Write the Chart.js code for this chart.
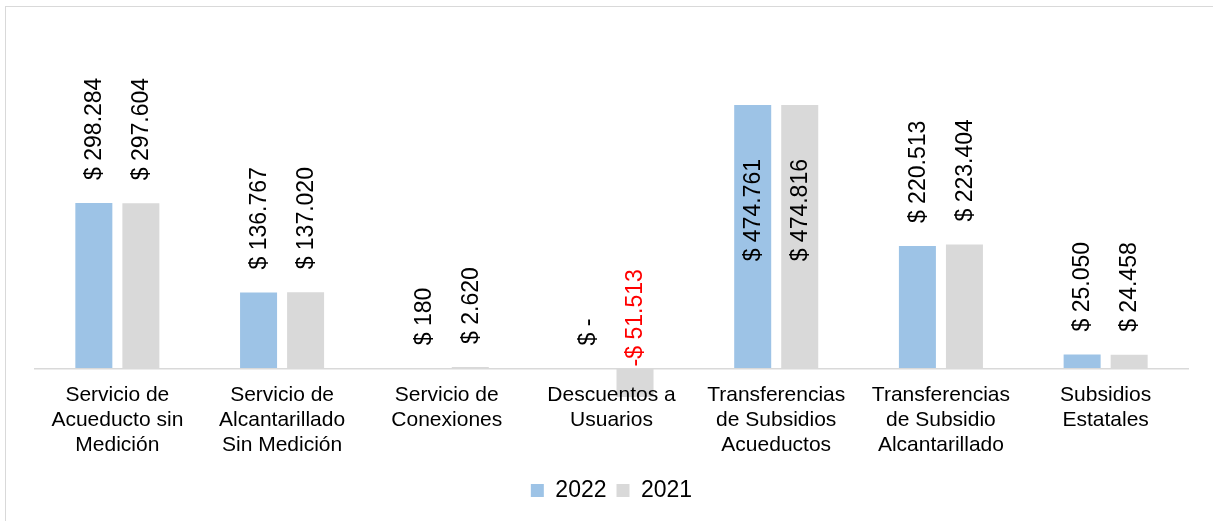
<!DOCTYPE html>
<html>
<head>
<meta charset="utf-8">
<script src="https://cdn.jsdelivr.net/npm/chart.js@4/dist/chart.umd.min.js"></script>
<style>
html,body{margin:0;padding:0;background:#fff;}
#wrap{position:relative;width:1213px;height:521px;overflow:hidden;}
#frame{position:absolute;left:5px;top:6px;width:1220px;height:530px;border-left:1.5px solid #d9d9d9;border-top:1.5px solid #d9d9d9;}
canvas{position:absolute;left:0;top:0;}
</style>
</head>
<body>
<div id="wrap"><canvas id="c" width="1213" height="521"></canvas><div id="frame"></div></div>
<script>
const categories = [
  ["Servicio de","Acueducto sin","Medición"],
  ["Servicio de","Alcantarillado","Sin Medición"],
  ["Servicio de","Conexiones"],
  ["Descuentos a","Usuarios"],
  ["Transferencias","de Subsidios","Acueductos"],
  ["Transferencias","de Subsidio","Alcantarillado"],
  ["Subsidios","Estatales"]
];
const seriesNames = ["2022", "2021"];
const values2022 = [298284, 136767, 180, 0, 474761, 220513, 25050];
const values2021 = [297604, 137020, 2620, -51513, 474816, 223404, 24458];

const FONT = "'Liberation Sans', Arial, sans-serif";

function fmt(v){
  if (v === 0) return "$ -";
  const s = Math.abs(v).toString().replace(/\B(?=(\d{3})+(?!\d))/g, ".");
  return (v < 0 ? "-" : "") + "$ " + s;
}

const labelPlugin = {
  id: 'barLabels',
  afterDatasetsDraw(chart){
    const ctx = chart.ctx;
    const area = chart.chartArea;
    const yScale = chart.scales.y;
    const zeroY = yScale.getPixelForValue(0);
    ctx.save();
    ctx.font = "23px " + FONT;
    ctx.textAlign = 'left';
    ctx.textBaseline = 'middle';
    chart.data.datasets.forEach((ds, di) => {
      const meta = chart.getDatasetMeta(di);
      meta.data.forEach((bar, i) => {
        const v = ds.data[i];
        const text = fmt(v);
        const w = ctx.measureText(text).width;
        let start;
        ctx.fillStyle = '#000';
        if (v < 0) {
          ctx.fillStyle = '#ff0000';
          start = zeroY - 2;
        } else {
          start = bar.y - 23;
          if (start - w < area.top) {
            start = bar.y + 54 + w;
          }
        }
        ctx.save();
        ctx.translate(bar.x + 1, start);
        ctx.rotate(-Math.PI / 2);
        ctx.fillText(text, 0, 0);
        ctx.restore();
      });
    });
    ctx.restore();
  }
};

new Chart(document.getElementById('c'), {
  type: 'bar',
  data: {
    labels: categories,
    datasets: [
      { label: seriesNames[0], data: values2022, backgroundColor: '#9dc3e6', borderWidth: 0,
        categoryPercentage: 0.571, barPercentage: 0.787 },
      { label: seriesNames[1], data: values2021, backgroundColor: '#d9d9d9', borderWidth: 0,
        categoryPercentage: 0.571, barPercentage: 0.787 }
    ]
  },
  options: {
    responsive: false,
    animation: false,
    layout: { padding: { left: 35, right: 25, top: 40, bottom: 9 } },
    scales: {
      y: {
        display: false,
        min: -181400,
        max: 592000
      },
      x: {
        position: { y: 0 },
        grid: { display: false, drawTicks: false },
        border: { display: true, color: '#d9d9d9', width: 1.5, z: 1 },
        ticks: {
          z: 1,
          color: '#000',
          font: { family: FONT, size: 21, lineHeight: 1.17 },
          padding: 15,
          maxRotation: 0,
          autoSkip: false
        }
      }
    },
    plugins: {
      legend: {
        position: 'bottom',
        labels: {
          color: '#000',
          font: { family: FONT, size: 23 },
          boxWidth: 13,
          boxHeight: 13,
          padding: 10
        }
      },
      tooltip: { enabled: false }
    }
  },
  plugins: [labelPlugin]
});
</script>
</body>
</html>
